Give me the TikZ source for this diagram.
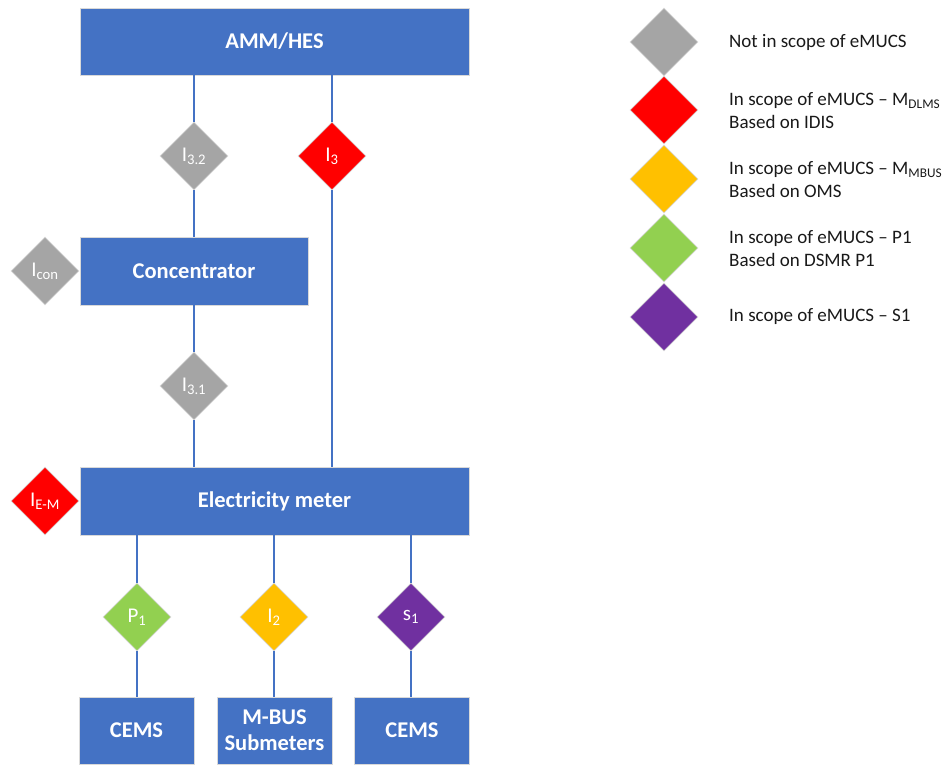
\documentclass[tikz,border=0pt]{standalone}
\usepackage{fontspec}
\setmainfont{Carlito}
\usetikzlibrary{shapes.geometric}
\definecolor{boxblue}{HTML}{4472C4}
\definecolor{dgray}{HTML}{A5A5A5}
\definecolor{dred}{HTML}{FF0000}
\definecolor{dyellow}{HTML}{FFC000}
\definecolor{dgreen}{HTML}{92D050}
\definecolor{dpurple}{HTML}{7030A0}
\definecolor{edge}{HTML}{D9D9D9}
\tikzset{
  box/.style={rectangle, fill=boxblue, draw=edge, line width=0.6pt, text=white,
    font=\bfseries\fontsize{22.5}{26}\selectfont, inner sep=0pt, align=center},
  dia/.style={diamond, aspect=1, draw=edge, line width=0.6pt, minimum width=68pt,
    minimum height=68pt, inner sep=0pt, text=white, font=\fontsize{21}{22}\selectfont},
  conn/.style={draw=boxblue, line width=1.1pt},
  legtext/.style={anchor=west, inner sep=0pt, align=left, text=black!90,
    font=\fontsize{19}{23}\selectfont}
}
\begin{document}
\begin{tikzpicture}[x=1pt,y=-1pt]
\useasboundingbox (0,0) rectangle (946,764);
% boxes
\node[box, minimum width=389pt, minimum height=67pt] (amm) at (274.5,41.5) {AMM/HES};
\node[box, minimum width=228pt, minimum height=68pt] (conc) at (194,271) {Concentrator};
\node[box, minimum width=389pt, minimum height=68pt] (em) at (274.5,501) {Electricity meter};
\node[box, minimum width=115pt, minimum height=67pt] (cems1) at (136.5,730.5) {CEMS};
\node[box, minimum width=115pt, minimum height=67pt] (mbus) at (274.5,730.5) {M-BUS\\Submeters};
\node[box, minimum width=115pt, minimum height=67pt] (cems2) at (412,730.5) {CEMS};
% diamonds
\node[dia, fill=dgray] (i32) at (194,156) {I\textsubscript{3.2}};
\node[dia, fill=dred] (i3) at (332,156) {I\textsubscript{3}};
\node[dia, fill=dgray] (icon) at (45,271) {I\textsubscript{con}};
\node[dia, fill=dgray] (i31) at (194,386) {I\textsubscript{3.1}};
\node[dia, fill=dred] (iem) at (45,501) {I\textsubscript{E-M}};
\node[dia, fill=dgreen] (p1) at (137,617) {P\textsubscript{1}};
\node[dia, fill=dyellow] (i2) at (274,617) {I\textsubscript{2}};
\node[dia, fill=dpurple] (s1) at (411,617) {s\textsubscript{1}};
% connectors
\draw[conn] (i32.north |- amm.south) -- (i32.north);
\draw[conn] (i32.south) -- (i32.south |- conc.north);
\draw[conn] (i3.north |- amm.south) -- (i3.north);
\draw[conn] (i3.south) -- (i3.south |- em.north);
\draw[conn] (i31.north |- conc.south) -- (i31.north);
\draw[conn] (i31.south) -- (i31.south |- em.north);
\draw[conn] (p1.north |- em.south) -- (p1.north);
\draw[conn] (p1.south) -- (p1.south |- cems1.north);
\draw[conn] (i2.north |- em.south) -- (i2.north);
\draw[conn] (i2.south) -- (i2.south |- mbus.north);
\draw[conn] (s1.north |- em.south) -- (s1.north);
\draw[conn] (s1.south) -- (s1.south |- cems2.north);
% legend
\node[dia, fill=dgray] (lg1) at (664,42) {};
\node[dia, fill=dred] (lg2) at (664,110) {};
\node[dia, fill=dyellow] (lg3) at (664,179) {};
\node[dia, fill=dgreen] (lg4) at (664,248) {};
\node[dia, fill=dpurple] (lg5) at (664,317) {};
\node[legtext] (lt1) at (729,42) {Not in scope of eMUCS};
\node[legtext] (lt2) at (729,111) {In scope of eMUCS -- M\textsubscript{DLMS}\\Based on IDIS};
\node[legtext] (lt3) at (729,180) {In scope of eMUCS -- M\textsubscript{MBUS}\\Based on OMS};
\node[legtext] (lt4) at (729,249) {In scope of eMUCS -- P1\\Based on DSMR P1};
\node[legtext] (lt5) at (729,317) {In scope of eMUCS -- S1};
\end{tikzpicture}
\end{document}
